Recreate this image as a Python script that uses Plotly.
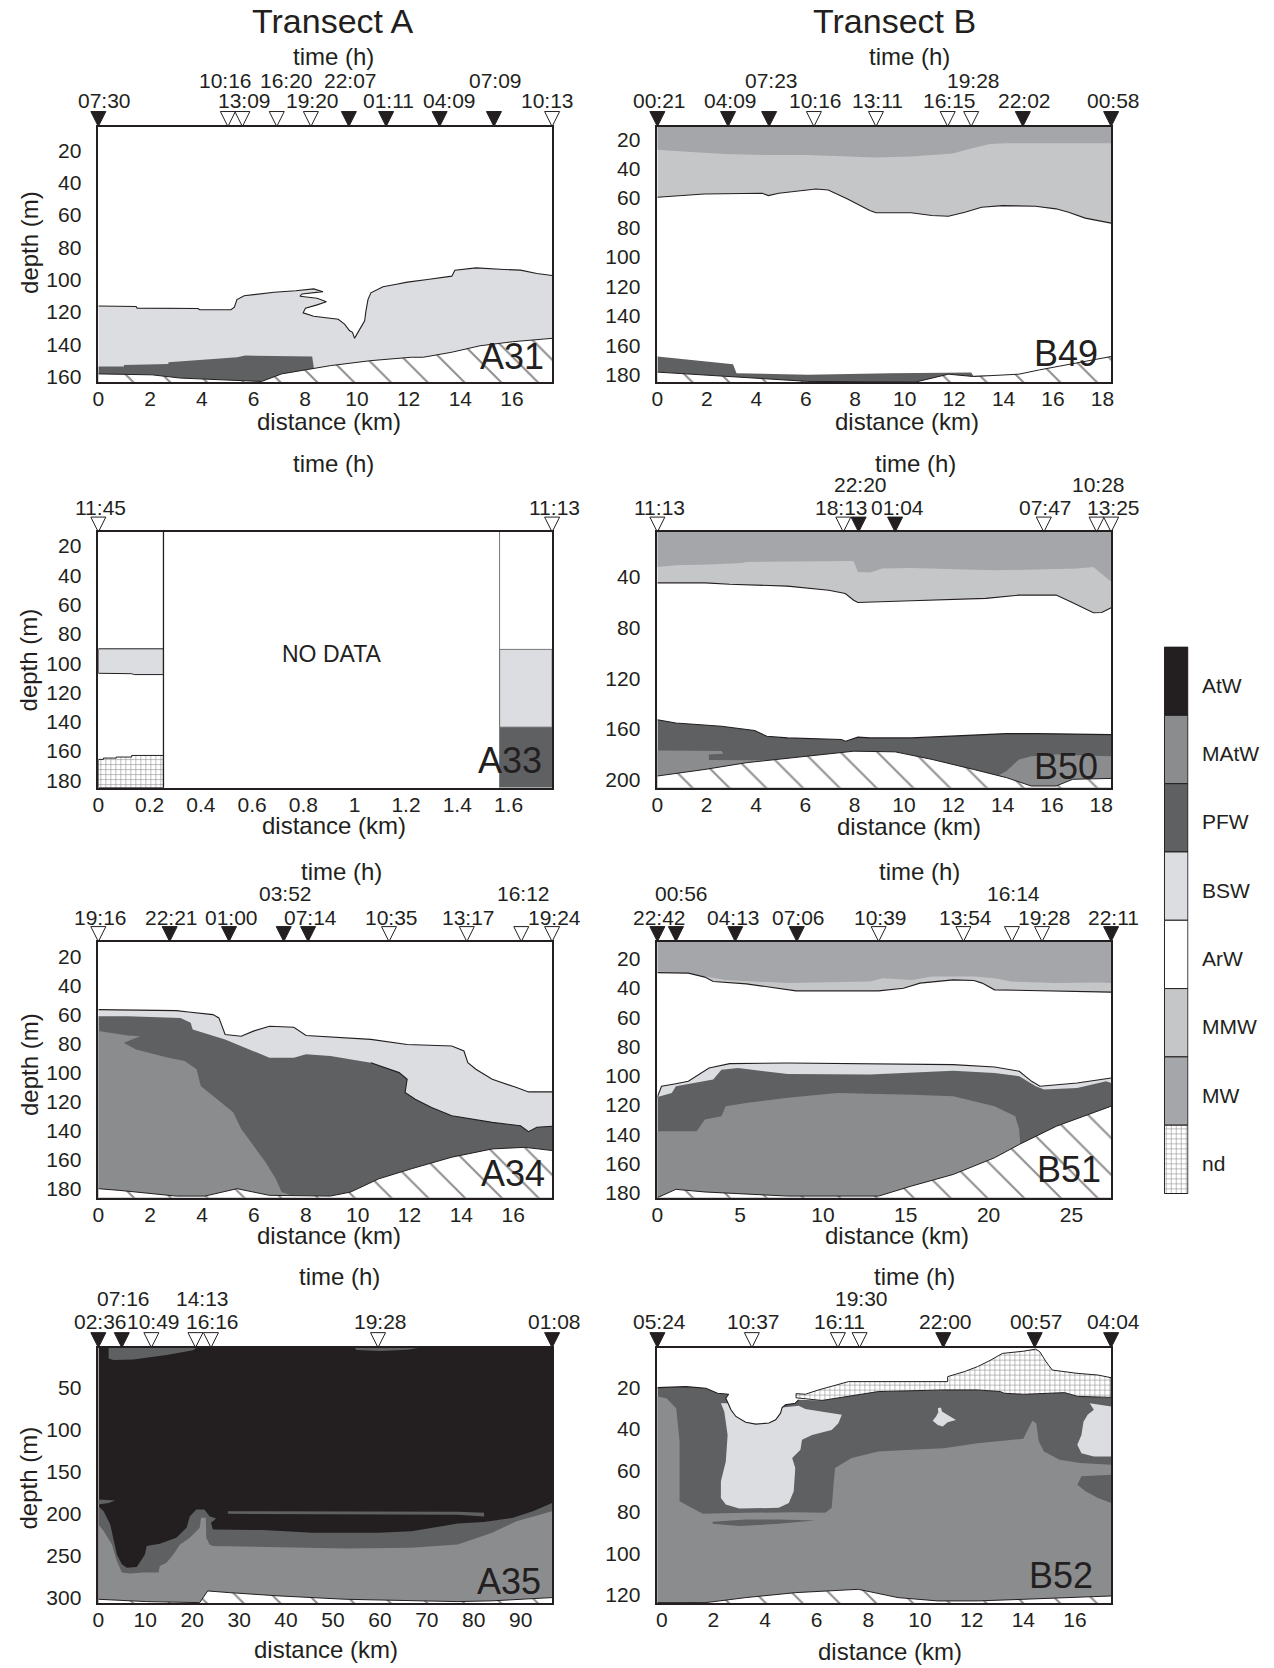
import plotly.graph_objects as go

W, H = 1274, 1668
INK = '#231f20'
FONT = 'Liberation Sans, Arial, Helvetica, sans-serif'

# ---------------- water-mass classes ----------------
CLASSES = ['AtW', 'MAtW', 'PFW', 'BSW', 'ArW', 'MMW', 'MW', 'nd']
CLASS_COLORS = ['#231f20', '#8b8c8e', '#5f6062', '#dcdde0', '#ffffff', '#c5c6c8', '#a5a6a9', '#ffffff']
C = dict(zip(CLASSES, CLASS_COLORS))

# ---------------- station times (top axis) ----------------
A31_TIMES = ['07:30', '10:16', '13:09', '16:20', '19:20', '22:07', '01:11', '04:09', '07:09', '10:13']
A31_TDIST = [0, 5.01, 5.57, 6.90, 8.22, 9.69, 11.13, 13.20, 15.30, 17.55]
A31_NIGHT = [1, 0, 0, 0, 0, 1, 1, 1, 1, 0]
B49_TIMES = ['00:21', '04:09', '07:23', '10:16', '13:11', '16:15', '19:28', '22:02', '00:58']
B49_TDIST = [0, 2.86, 4.52, 6.33, 8.84, 11.74, 12.69, 14.78, 18.35]
B49_NIGHT = [1, 1, 1, 0, 0, 0, 0, 1, 1]
A33_TIMES = ['11:45', '11:13']
A33_TDIST = [0, 1.77]
A33_NIGHT = [0, 0]
B50_TIMES = ['11:13', '18:13', '22:20', '01:04', '07:47', '10:28', '13:25']
B50_TDIST = [0, 7.54, 8.16, 9.64, 15.67, 17.81, 18.4]
B50_NIGHT = [0, 0, 1, 1, 0, 0, 0]
A34_TIMES = ['19:16', '22:21', '01:00', '03:52', '07:14', '10:35', '13:17', '16:12', '19:24']
A34_TDIST = [0, 2.75, 5.04, 7.15, 8.09, 11.21, 14.21, 16.31, 17.5]
A34_NIGHT = [0, 1, 1, 1, 1, 0, 0, 0, 0]
B51_TIMES = ['22:42', '00:56', '04:13', '07:06', '10:39', '13:54', '16:14', '19:28', '22:11']
B51_TDIST = [0, 1.12, 4.70, 8.42, 13.36, 18.48, 21.41, 23.23, 27.4]
B51_NIGHT = [1, 1, 1, 1, 0, 0, 0, 0, 1]
A35_TIMES = ['02:36', '07:16', '10:49', '14:13', '16:16', '19:28', '01:08']
A35_TDIST = [0, 5.0, 11.3, 20.7, 24.0, 59.6, 96.7]
A35_NIGHT = [1, 1, 0, 0, 0, 0, 1]
B52_TIMES = ['05:24', '10:37', '16:11', '19:30', '22:00', '00:57', '04:04']
B52_TDIST = [-0.17, 3.49, 6.82, 7.66, 10.90, 14.44, 17.4]
B52_NIGHT = [1, 0, 0, 0, 1, 1, 1]

# ---------------- tick values ----------------
A31_XTICKS = [0, 2, 4, 6, 8, 10, 12, 14, 16]
A31_YTICKS = [20, 40, 60, 80, 100, 120, 140, 160]
B49_XTICKS = [0, 2, 4, 6, 8, 10, 12, 14, 16, 18]
B49_YTICKS = [20, 40, 60, 80, 100, 120, 140, 160, 180]
A33_XTICKS = [0, 0.2, 0.4, 0.6, 0.8, 1, 1.2, 1.4, 1.6]
A33_YTICKS = [20, 40, 60, 80, 100, 120, 140, 160, 180]
B50_XTICKS = [0, 2, 4, 6, 8, 10, 12, 14, 16, 18]
B50_YTICKS = [40, 80, 120, 160, 200]
A34_XTICKS = [0, 2, 4, 6, 8, 10, 12, 14, 16]
A34_YTICKS = [20, 40, 60, 80, 100, 120, 140, 160, 180]
B51_XTICKS = [0, 5, 10, 15, 20, 25]
B51_YTICKS = [20, 40, 60, 80, 100, 120, 140, 160, 180]
A35_XTICKS = [0, 10, 20, 30, 40, 50, 60, 70, 80, 90]
A35_YTICKS = [50, 100, 150, 200, 250, 300]
B52_XTICKS = [0, 2, 4, 6, 8, 10, 12, 14, 16]
B52_YTICKS = [20, 40, 60, 80, 100, 120]

# ---------------- section boundaries (distance km, depth m) ----------------
A31_BSW_TOP = [(0, 116.3), (1.46, 116.6), (1.5, 117.6), (3.85, 117.8), (3.92, 118.6), (5.13, 118.6), (5.26, 117.0),
               (5.36, 112.3), (5.64, 109.9), (6.80, 107.8), (7.63, 106.8), (8.33, 105.7), (8.69, 107.4), (7.88, 108.8),
               (7.80, 110.2), (8.46, 111.5), (8.82, 113.6), (8.46, 115.6), (8.01, 117.6), (7.92, 120.5), (8.33, 122.6),
               (9.10, 123.8), (9.28, 124.5), (9.52, 127.5), (9.72, 131.6), (9.83, 132.6), (9.91, 136.3), (10.04, 132.6),
               (10.15, 129.6), (10.30, 125.5), (10.35, 119.3), (10.43, 112.2), (10.54, 108.1), (11.01, 104.4),
               (11.48, 103.0), (11.95, 101.5), (12.73, 99.9), (13.67, 97.8), (13.79, 94.1), (14.61, 92.7),
               (15.70, 93.7), (16.33, 94.1), (16.96, 96.2), (17.55, 97.4)]
A31_PFW = [(0, 153.8), (0.99, 153.8), (0.99, 152.8), (2.71, 152.2), (2.71, 151.1), (5.37, 148.0), (5.68, 147.0),
           (8.27, 147.6), (8.34, 155.2), (8.34, 163.4), (0, 163.4)]
A31_TOPO = [(0, 158.3), (2.08, 158.9), (3.18, 160.9), (6.31, 163.0), (7.09, 158.3), (8.34, 155.2), (8.97, 153.2),
            (10.54, 150.1), (12.10, 148.0), (12.57, 148.0), (13.67, 144.9), (14.76, 140.9), (16.02, 138.4), (17.55, 136.3)]

B49_MW_BASE = [(0, 27.2), (0.55, 27.9), (2.73, 30.1), (4.40, 30.8), (6.08, 30.8), (8.84, 32.4), (10.26, 31.7),
               (11.94, 29.7), (12.61, 26.7), (13.44, 23.3), (14.11, 22.7), (16.96, 22.7), (18.35, 22.7)]
B49_ARW_TOP = [(0, 59.4), (1.89, 57.2), (4.24, 56.7), (4.49, 58.3), (4.91, 56.7), (6.41, 53.8), (6.91, 54.5),
               (7.67, 60.5), (8.59, 68.4), (8.84, 70.0), (10.26, 70.0), (11.10, 71.8), (11.77, 72.3), (12.44, 69.6),
               (13.11, 66.2), (13.95, 65.1), (15.29, 65.5), (16.12, 67.3), (16.63, 69.6), (17.30, 73.6), (18.35, 77.0)]
B49_PFW = [(0, 167.6), (0.39, 168.3), (3.06, 172.8), (3.20, 178.9), (6.08, 180.0), (9.43, 178.9), (12.69, 178.5),
           (12.78, 180.7), (13.44, 180.5), (13.44, 185), (0, 185)]
B49_TOPO = [(0, 178.2), (1.89, 180.0), (6.08, 184.5), (10.43, 185.0), (11.77, 179.6), (12.78, 181.2), (13.78, 180.5),
            (14.62, 179.6), (15.45, 176.7), (16.63, 172.8), (18.35, 167.6)]

A33_EDGES = [0.254, 1.565]
A33_L_BSW = [(0, 90.2), (0.254, 90.2), (0.254, 107.8), (0.14, 107.8), (0.13, 107.2), (0, 106.9)]
A33_L_ND = [(0, 165.7), (0.02, 165.7), (0.02, 164.8), (0.07, 164.8), (0.07, 164.1), (0.13, 164.1), (0.13, 163.0),
            (0.254, 163.0), (0.254, 185), (0, 185)]
A33_R_BSW = [(1.565, 90.6), (1.77, 90.6), (1.77, 143.7), (1.565, 143.7)]
A33_R_PFW = [(1.565, 143.7), (1.77, 143.7), (1.77, 185), (1.565, 185)]

B50_MW_BASE = [(0, 32.1), (0.75, 30.8), (2.09, 30.3), (3.44, 29.0), (3.60, 28.2), (5.28, 27.7), (7.88, 27.4),
               (7.96, 27.7), (8.13, 36.1), (8.63, 36.6), (9.13, 33.4), (10.31, 32.9), (11.98, 34.0), (13.66, 34.8),
               (15.33, 34.2), (17.01, 33.4), (17.68, 32.1), (18.02, 37.4), (18.40, 43.9)]
B50_ARW_TOP = [(0, 44.7), (1.93, 44.7), (2.93, 45.8), (5.28, 47.3), (6.95, 50.5), (7.62, 53.1), (7.96, 58.4),
               (8.13, 60.2), (10.31, 58.9), (13.32, 57.0), (14.66, 54.4), (16.17, 54.4), (16.76, 59.7), (17.18, 63.6),
               (17.68, 68.3), (18.02, 68.1), (18.40, 64.4)]
B50_PFW_TOP = [(0, 152.8), (0.75, 155.4), (2.60, 158.0), (3.94, 161.4), (4.44, 165.9), (5.28, 167.2), (7.46, 168.5),
               (7.63, 169.8), (8.13, 166.6), (8.63, 167.2), (10.31, 167.2), (11.98, 165.9), (14.16, 163.8),
               (15.33, 163.8), (18.40, 164.6)]
B50_MATW_L = [(0, 177.1), (2.60, 177.6), (2.68, 179.8), (2.09, 180.3), (2.09, 184.7), (5.5, 184.9), (5.5, 206.5),
              (0, 206.5)]
B50_MATW_R = [(13.66, 198.6), (14.16, 193.4), (14.66, 184.2), (15.16, 181.6), (16.17, 180.3), (18.40, 181.6),
              (18.40, 206.5), (13.66, 206.5)]
B50_TOPO = [(0, 197.3), (1.93, 192.1), (3.60, 186.8), (5.61, 182.4), (7.96, 177.7), (9.64, 178.2), (11.14, 184.2),
            (12.82, 192.1), (14.16, 198.6), (15.16, 205.2), (16.17, 205.2), (16.84, 199.9), (18.40, 199.2)]

A34_BSW_TOP = [(0, 56.6), (1.14, 57.0), (3.01, 57.3), (3.48, 58.2), (4.42, 60.0), (4.65, 62.3), (4.89, 73.7),
               (5.51, 74.9), (5.98, 71.4), (6.60, 68.0), (7.54, 68.7), (8.01, 74.4), (8.95, 75.3), (10.51, 77.1),
               (11.91, 80.6), (13.63, 81.7), (14.10, 85.1), (14.25, 93.2), (14.56, 97.7), (15.19, 104.6),
               (16.13, 110.3), (16.59, 113.3), (17.5, 113.3)]
A34_PFW_TOP = [(0, 61.1), (1.14, 61.1), (3.17, 62.3), (3.56, 65.7), (3.64, 70.3), (4.89, 77.1), (5.82, 84.0),
               (6.60, 89.7), (7.54, 89.7), (8.01, 87.4), (8.95, 88.6), (10.51, 93.2), (11.60, 100.0), (11.91, 104.6),
               (11.83, 113.7), (12.22, 118.3), (12.85, 124.0), (13.63, 129.7), (15.19, 134.3), (16.28, 136.6),
               (16.59, 140.7), (16.91, 137.7), (17.5, 137.0)]
A34_MATW = [(0, 71.4), (1.14, 74.4), (1.61, 74.9), (0.98, 79.4), (1.45, 84.0), (2.70, 89.7), (3.33, 92.0),
            (3.79, 97.7), (3.95, 109.2), (4.57, 118.3), (5.20, 127.4), (5.51, 138.9), (5.98, 150.3), (6.45, 161.7),
            (6.84, 173.2), (7.07, 182.3), (7.70, 186.2), (0, 186.2)]
A34_TOPO = [(0, 180.0), (0.83, 181.2), (3.01, 185.1), (4.11, 185.1), (5.35, 180.0), (6.60, 184.6), (8.95, 185.1),
            (9.73, 182.3), (10.82, 173.2), (12.07, 166.3), (13.63, 158.3), (15.19, 152.6), (16.44, 151.5), (17.5, 153.7)]

B51_MW_BASE = [(0, 28.7), (1.62, 29.4), (4.12, 34.4), (7.87, 36.6), (12.86, 35.5), (13.61, 33.2), (15.36, 34.4),
               (16.61, 32.1), (19.11, 32.1), (20.36, 33.2), (21.36, 35.5), (24.10, 36.6), (26.60, 36.2), (27.4, 36.6)]
B51_ARW_TOP = [(0, 29.4), (1.87, 29.8), (2.87, 32.5), (3.37, 35.5), (5.37, 37.1), (7.37, 40.1), (8.37, 41.9),
               (13.36, 41.9), (14.86, 40.1), (15.86, 36.6), (16.86, 35.5), (17.86, 34.4), (19.11, 34.8), (19.61, 36.6),
               (20.36, 41.2), (22.85, 41.9), (27.4, 42.8)]
B51_BSW_TOP = [(0, 114.5), (0.25, 107.2), (1.12, 105.4), (1.87, 103.8), (3.12, 94.7), (4.37, 91.7), (7.87, 91.3),
               (12.86, 91.7), (17.86, 92.4), (20.36, 94.0), (21.85, 96.9), (22.60, 103.8), (23.10, 107.2),
               (25.35, 104.9), (27.4, 101.5)]
B51_PFW_TOP = [(0, 114.5), (0.87, 111.7), (1.12, 107.2), (3.37, 102.6), (3.87, 95.8), (4.87, 94.7), (7.87, 98.8),
               (12.86, 99.2), (17.86, 96.5), (20.36, 98.1), (21.85, 100.3), (22.85, 107.2), (23.35, 109.4),
               (25.35, 108.3), (27.1, 103.8), (27.4, 104.9)]
B51_MATW_TOP = [(0, 137.9), (2.37, 137.9), (2.87, 129.9), (3.87, 127.7), (4.12, 120.8), (5.37, 118.6), (7.87, 115.1),
                (10.87, 111.7), (15.36, 112.9), (17.86, 114.0), (20.36, 120.8), (21.61, 127.7), (21.85, 136.8),
                (21.91, 147.0)]
B51_TOPO = [(0, 183.4), (1.12, 177.7), (2.87, 179.5), (7.87, 182.3), (13.36, 182.3), (15.36, 175.4), (17.86, 167.5),
            (20.36, 156.1), (21.85, 147.0), (24.10, 134.5), (27.4, 120.8)]

A35_PFW_SURF1 = [(2.19, 2.6), (20.88, 2.6), (20.17, 5.6), (14.53, 11.5), (7.48, 16.6), (3.24, 17.4), (2.19, 15.4)]
A35_PFW_SURF2 = [(54.6, 2.6), (68.4, 2.6), (66.0, 5.0), (60.0, 6.5), (55.0, 5.5)]
A35_PFW_TONGUE = [(0, 183.4), (3.6, 184.6), (2.19, 187.4), (0, 189.3)]
A35_PFW_TOP = [(0, 191.3), (1.13, 197.2), (2.54, 213.0), (3.24, 228.8), (3.95, 248.6), (5.01, 260.4), (6.07, 264.4),
               (8.18, 263.6), (9.94, 248.6), (10.3, 238.7), (13.1, 236.0), (16.6, 228.8), (18.8, 216.9), (19.5, 203.1),
               (20.9, 195.3), (22.6, 195.3), (23.7, 203.1), (25.1, 205.9), (24.0, 211.0), (24.4, 218.9), (27.9, 218.9),
               (35.0, 219.7), (45.6, 222.8), (59.7, 223.0), (66.7, 221.0), (73.8, 214.0), (76.6, 212.0),
               (82.2, 210.0), (88.2, 205.2), (92.6, 197.3), (96.7, 187.4)]
A35_MATW_TOP = [(0, 213.0), (1.13, 220.9), (2.89, 236.7), (3.95, 256.4), (5.01, 270.2), (6.77, 271.4), (9.59, 270.2),
                (12.8, 270.2), (13.1, 262.4), (14.5, 258.5), (16.0, 248.6), (17.4, 236.7), (19.5, 228.8),
                (21.6, 216.9), (21.9, 205.1), (22.9, 205.1), (23.0, 228.8), (23.7, 236.7), (24.4, 238.7),
                (38.5, 239.9), (52.6, 241.5), (66.7, 240.7), (76.6, 236.7), (83.9, 223.0), (89.1, 209.2), (96.7, 197.3)]
A35_PFW_THIN = [(27.6, 197.2), (76.6, 198.0), (82.2, 199.0), (82.2, 203.5), (76.6, 201.5), (27.6, 200.4)]
A35_TOPO = [(0, 302.0), (10.3, 304.8), (21.6, 306.0), (23.3, 292.1), (27.9, 294.1), (38.5, 298.0), (52.6, 302.0),
            (66.7, 303.9), (76.6, 304.8), (83.9, 303.9), (96.7, 300.0)]

B52_PFW_TOP = [(-0.17, 20.1), (0.94, 19.6), (1.71, 20.4), (2.16, 22.8), (2.59, 23.3), (2.48, 25.2), (2.68, 30.8),
               (2.87, 34.0), (3.25, 36.8), (3.64, 37.7), (4.15, 37.2), (4.41, 35.6), (4.60, 32.4), (4.66, 29.7),
               (4.79, 28.4), (5.17, 27.6), (5.30, 26.0), (6.2, 26.3), (6.71, 25.2), (7.61, 23.6), (8.38, 22.0),
               (10.94, 21.2), (12.22, 21.2), (13.12, 22.0), (13.25, 22.8), (14.02, 23.3), (15.6, 22.5),
               (16.1, 24.3), (17.4, 24.8)]
B52_ND = [(5.2, 23.0), (5.56, 23.3), (6.07, 21.2), (6.58, 19.6), (7.23, 17.2), (11.07, 17.2), (11.07, 14.8),
          (11.71, 12.4), (12.22, 10.0), (12.74, 6.8), (13.19, 3.6), (14.02, 2.5), (14.48, 1.5), (14.64, 2.8),
          (14.88, 7.6), (15.12, 11.6), (16.08, 13.2), (16.88, 14.0), (17.4, 15.3), (17.4, 24.8), (16.1, 24.3),
          (15.6, 22.5), (14.02, 23.3), (13.25, 22.8), (13.12, 22.0), (12.22, 21.2), (10.94, 21.2), (8.38, 22.0),
          (7.61, 23.6), (6.71, 25.2), (6.2, 26.3), (5.2, 25.0)]
B52_MATW_TOP = [(-0.17, 24.4), (0.18, 25.2), (0.56, 30.0), (0.69, 46.1), (0.69, 74.9), (1.14, 78.1), (1.59, 81.0),
                (3.25, 80.5), (5.17, 80.2), (6.33, 80.5), (6.58, 78.1), (6.65, 66.9), (6.71, 58.9), (7.35, 54.1),
                (8.38, 50.9), (9.66, 50.1), (10.94, 49.3), (12.22, 46.9), (13.50, 45.3), (14.0, 44.8), (14.2, 39.7),
                (14.35, 36.1), (14.5, 37.3), (14.6, 46.1), (14.8, 50.9), (15.4, 54.9), (16.2, 56.5), (17.4, 57.3)]
B52_BSW_MAIN = [(2.29, 27.6), (2.42, 31.6), (2.55, 42.9), (2.48, 55.7), (2.29, 65.3), (2.29, 73.3), (2.48, 76.5),
                (3.0, 78.4), (4.53, 78.1), (4.92, 75.7), (5.11, 70.1), (5.17, 58.9), (5.05, 54.1), (5.37, 50.1),
                (5.43, 45.3), (5.82, 42.9), (6.58, 40.5), (6.84, 37.3), (6.97, 33.2), (6.58, 32.4), (5.56, 30.4),
                (5.30, 28.8), (4.92, 29.2), (4.66, 29.7), (4.60, 32.4), (4.41, 35.6), (4.15, 37.2), (3.64, 37.7),
                (3.25, 36.8), (2.87, 34.0), (2.68, 30.8), (2.59, 27.6)]
B52_BSW_SPOT = [(10.69, 30.0), (10.81, 29.7), (10.85, 31.6), (11.07, 33.2), (11.39, 35.7), (11.07, 36.8),
                (10.88, 38.9), (10.69, 38.1), (10.49, 36.1), (10.62, 34.0), (10.71, 32.0)]
B52_BSW_EAST = [(16.57, 27.6), (17.05, 28.4), (17.4, 29.2), (17.4, 53.3), (16.73, 53.3), (16.25, 51.7), (16.09, 47.7),
                (16.25, 42.9), (16.33, 36.5), (16.49, 33.2), (16.73, 30.8)]
B52_PFW_EAST = [(17.4, 62.1), (16.25, 62.9), (16.09, 66.9), (16.41, 70.1), (16.89, 73.3), (17.4, 75.7)]
B52_PFW_STREAK = [(1.97, 84.8), (3.25, 83.7), (4.53, 83.7), (5.94, 84.2), (4.53, 85.8), (3.0, 86.9), (1.97, 85.8)]
B52_TOPO = [(-0.17, 123.8), (1.71, 123.8), (3.25, 121.4), (5.17, 119.0), (7.61, 117.4), (9.15, 121.4),
            (10.69, 123.0), (12.22, 123.0), (14.02, 122.2), (17.4, 120.6)]

# ---------------- layout (pixels) ----------------
COL_L = [93, 656]
COL_R = [550, 1113]
ROW_T = [127, 534, 945, 1352.5]
ROW_B = [383.5, 790.5, 1202, 1609]
LOW_SHIFT = [26, 25, 24, 26]
UP_SHIFT = [46, 47.5, 48, 49.5]

PANELS = [
    dict(name='A31', r=0, c=0, xr=[0, 17.55], yr=[163.4, 5.2], xt=A31_XTICKS, yt=A31_YTICKS,
         times=A31_TIMES, td=A31_TDIST, night=A31_NIGHT, up=[1, 3, 5, 8],
         shift={0: 4, 1: -4, 3: 8, 7: 8, 9: -7}, lab=(7, 13.5), tpos=(330, 57), dpos=(325, 423)),
    dict(name='B49', r=0, c=1, xr=[0, 18.35], yr=[185, 11.4], xt=B49_XTICKS, yt=B49_YTICKS,
         times=B49_TIMES, td=B49_TDIST, night=B49_NIGHT, up=[2, 6], shift={}, lab=(12.6, 15.7),
         tpos=(910, 57), dpos=(907, 423)),
    dict(name='A33', r=1, c=0, xr=[0, 1.77], yr=[185, 10.5], xt=A33_XTICKS, yt=A33_YTICKS,
         times=A33_TIMES, td=A33_TDIST, night=A33_NIGHT, up=[], shift={}, lab=(9, 14.5),
         tpos=(330, 465), dpos=(330, 828)),
    dict(name='B50', r=1, c=1, xr=[0, 18.4], yr=[206.5, 4.6], xt=B50_XTICKS, yt=B50_YTICKS,
         times=B50_TIMES, td=B50_TDIST, night=B50_NIGHT, up=[2, 5], shift={1: -4}, lab=(12.6, 9),
         tpos=(916, 465), dpos=(909, 829)),
    dict(name='A34', r=2, c=0, xr=[0, 17.5], yr=[186.2, 9.7], xt=A34_XTICKS, yt=A34_YTICKS,
         times=A34_TIMES, td=A34_TDIST, night=A34_NIGHT, up=[3, 7], shift={}, lab=(6.3, 12),
         tpos=(338, 875), dpos=(325, 1240)),
    dict(name='B51', r=2, c=1, xr=[0, 27.4], yr=[183.4, 8.2], xt=B51_XTICKS, yt=B51_YTICKS,
         times=B51_TIMES, td=B51_TDIST, night=B51_NIGHT, up=[1, 6], shift={1: 4, 2: -4}, lab=(9.3, 15.3),
         tpos=(920, 875), dpos=(897, 1240)),
    dict(name='A35', r=3, c=0, xr=[0, 96.7], yr=[306.7, 2.6], xt=A35_XTICKS, yt=A35_YTICKS,
         times=A35_TIMES, td=A35_TDIST, night=A35_NIGHT, up=[1, 3], shift={3: 5}, lab=(10.4, 9),
         tpos=(336, 1281), dpos=(322, 1655)),
    dict(name='B52', r=3, c=1, xr=[-0.17, 17.4], yr=[124.1, 0.8], xt=B52_XTICKS, yt=B52_YTICKS,
         times=B52_TIMES, td=B52_TDIST, night=B52_NIGHT, up=[3], shift={}, lab=(17.6, 15.7),
         tpos=(915, 1281), dpos=(890, 1657)),
]

HATCH = dict(shape='\\', bgcolor='white', fgcolor=INK, size=26, solidity=0.08)
GRID = dict(shape='+', bgcolor='white', fgcolor=INK, size=5, solidity=0.22)

fig = go.Figure()


def ids(n):
    return ('x' if n == 1 else f'x{n}'), ('y' if n == 1 else f'y{n}')


def poly(n, pts, color, pattern=None, lw=0, lc=INK):
    xa, ya = ids(n)
    xs = [p[0] for p in pts] + [pts[0][0]]
    ys = [p[1] for p in pts] + [pts[0][1]]
    kw = dict(x=xs, y=ys, xaxis=xa, yaxis=ya, mode='lines', fill='toself', fillcolor=color,
              line=dict(width=lw, color=lc), hoverinfo='skip', showlegend=False)
    if pattern is not None:
        kw['fillpattern'] = pattern
    fig.add_trace(go.Scatter(**kw))


def edge(n, pts, w=1.1, c=INK):
    xa, ya = ids(n)
    fig.add_trace(go.Scatter(x=[p[0] for p in pts], y=[p[1] for p in pts], xaxis=xa, yaxis=ya, mode='lines',
                             line=dict(width=w, color=c), hoverinfo='skip', showlegend=False))


def above(n, pts, color):
    ytop = PANELS[n - 1]['yr'][1]
    poly(n, pts + [(pts[-1][0], ytop), (pts[0][0], ytop)], color)


def below(n, pts, color, pattern=None):
    ybot = PANELS[n - 1]['yr'][0]
    poly(n, pts + [(pts[-1][0], ybot), (pts[0][0], ybot)], color, pattern)


def topo(n, pts):
    below(n, pts, 'white', HATCH)
    edge(n, pts, 1.0)


# ---- A31 ----
below(1, A31_BSW_TOP, C['BSW'])
edge(1, A31_BSW_TOP)
poly(1, A31_PFW, C['PFW'])
topo(1, A31_TOPO)

# ---- B49 ----
above(2, B49_ARW_TOP, C['MMW'])
above(2, B49_MW_BASE, C['MW'])
edge(2, B49_ARW_TOP)
poly(2, B49_PFW, C['PFW'])
topo(2, B49_TOPO)

# ---- A33 ----
poly(3, A33_L_BSW, C['BSW'], lw=1.0)
poly(3, A33_L_ND, 'white', GRID, lw=1.0)
poly(3, A33_R_BSW, C['BSW'], lw=1.0, lc='#777777')
poly(3, A33_R_PFW, C['PFW'])
edge(3, [(A33_EDGES[0], 10.5), (A33_EDGES[0], 185)], 1.3)
edge(3, [(A33_EDGES[1], 10.5), (A33_EDGES[1], 185)], 1.0, '#777777')

# ---- B50 ----
above(4, B50_ARW_TOP, C['MMW'])
above(4, B50_MW_BASE, C['MW'])
edge(4, B50_ARW_TOP)
below(4, B50_PFW_TOP, C['PFW'])
edge(4, B50_PFW_TOP)
poly(4, B50_MATW_L, C['MAtW'])
poly(4, B50_MATW_R, C['MAtW'])
topo(4, B50_TOPO)

# ---- A34 ----
below(5, A34_BSW_TOP, C['BSW'])
edge(5, A34_BSW_TOP)
below(5, A34_PFW_TOP, C['PFW'])
edge(5, A34_PFW_TOP[11:])
poly(5, A34_MATW, C['MAtW'])
topo(5, A34_TOPO)

# ---- B51 ----
above(6, B51_ARW_TOP, C['MMW'])
above(6, B51_MW_BASE, C['MW'])
edge(6, B51_ARW_TOP)
below(6, B51_BSW_TOP, C['BSW'])
edge(6, B51_BSW_TOP)
below(6, B51_PFW_TOP, C['PFW'])
below(6, B51_MATW_TOP, C['MAtW'])
topo(6, B51_TOPO)

# ---- A35 ----
xr7, yr7 = PANELS[6]['xr'], PANELS[6]['yr']
poly(7, [(xr7[0], yr7[1]), (xr7[1], yr7[1]), (xr7[1], yr7[0]), (xr7[0], yr7[0])], C['AtW'])
poly(7, A35_PFW_SURF1, C['PFW'])
poly(7, A35_PFW_SURF2, C['PFW'])
poly(7, A35_PFW_TONGUE, C['PFW'])
below(7, A35_PFW_TOP, C['PFW'])
below(7, A35_MATW_TOP, C['MAtW'])
poly(7, A35_PFW_THIN, C['PFW'])
topo(7, A35_TOPO)

# ---- B52 ----
below(8, B52_PFW_TOP, C['PFW'])
below(8, B52_MATW_TOP, C['MAtW'])
poly(8, B52_BSW_MAIN, C['BSW'])
poly(8, B52_BSW_SPOT, C['BSW'])
poly(8, B52_BSW_EAST, C['BSW'])
poly(8, B52_PFW_EAST, C['PFW'])
poly(8, B52_PFW_STREAK, C['PFW'])
edge(8, B52_PFW_TOP[:17])
poly(8, B52_ND, 'white', GRID, lw=1.0)
topo(8, B52_TOPO)

# ---- station triangles, axes and texts ----
annotations = []
layout_axes = {}
for n, p in enumerate(PANELS, 1):
    xa, ya = ids(n)
    r, c = p['r'], p['c']
    L, R, T, B = COL_L[c], COL_R[c], ROW_T[r], ROW_B[r]
    tick_font = dict(size=21, family=FONT, color=INK)
    common = dict(showgrid=False, zeroline=False, showline=True, mirror=True, linecolor=INK, linewidth=1.5,
                  ticks='', tickfont=tick_font, tickmode='array', fixedrange=True)
    layout_axes['xaxis' if n == 1 else f'xaxis{n}'] = dict(
        domain=[L / W, R / W], range=p['xr'], anchor=ya, tickvals=p['xt'],
        ticktext=[f'{v:g}' for v in p['xt']], ticklabelstandoff=-3, **common)
    layout_axes['yaxis' if n == 1 else f'yaxis{n}'] = dict(
        domain=[1 - B / H, 1 - T / H], range=p['yr'], anchor=xa, tickvals=p['yt'],
        ticktext=[f'{v:g}' for v in p['yt']], ticklabelstandoff=11, **common)

    ytop = p['yr'][1]
    fig.add_trace(go.Scatter(
        x=p['td'], y=[ytop] * len(p['td']), xaxis=xa, yaxis=ya, mode='markers', cliponaxis=False,
        marker=dict(symbol='arrow-down', size=15,
                    color=[INK if k else 'white' for k in p['night']], line=dict(color=INK, width=1)),
        hoverinfo='skip', showlegend=False))

    for i, (t, d) in enumerate(zip(p['times'], p['td'])):
        annotations.append(dict(
            text=t, xref=xa, x=d, yref=f'{ya} domain', y=1, xanchor='center', yanchor='middle',
            yshift=UP_SHIFT[r] if i in p['up'] else LOW_SHIFT[r], xshift=2 + p['shift'].get(i, 0),
            showarrow=False, font=dict(size=21, family=FONT, color=INK)))

    gr, gb = p['lab']
    annotations.append(dict(text=p['name'], xref=f'{xa} domain', x=1, yref=f'{ya} domain', y=0,
                            xanchor='right', yanchor='bottom', xshift=-(gr - 1), yshift=gb - 10,
                            showarrow=False, font=dict(size=36, family=FONT, color=INK)))
    tx, ty = p['tpos']
    annotations.append(dict(text='time (h)', xref='paper', yref='paper', x=tx / W, y=1 - ty / H,
                            xanchor='center', yanchor='middle', showarrow=False,
                            font=dict(size=24, family=FONT, color=INK)))
    dx, dy = p['dpos']
    annotations.append(dict(text='distance (km)', xref='paper', yref='paper', x=dx / W, y=1 - dy / H,
                            xanchor='center', yanchor='middle', showarrow=False,
                            font=dict(size=24, family=FONT, color=INK)))
    if c == 0:
        annotations.append(dict(text='depth (m)', xref='paper', yref='paper', x=23 / W,
                                y=1 - [243, 662, 1068, 1483][r] / H, textangle=-90,
                                xanchor='center', yanchor='middle', showarrow=False,
                                font=dict(size=24, family=FONT, color=INK)))

annotations.append(dict(text='NO DATA', xref='x3', yref='y3', x=0.91, y=93.5, showarrow=False,
                        font=dict(size=23, family=FONT, color=INK)))
annotations.append(dict(text='Transect A', xref='paper', yref='paper', x=329 / W, y=1 - 21 / H,
                        xanchor='center', yanchor='middle', showarrow=False,
                        font=dict(size=34, family=FONT, color=INK)))
annotations.append(dict(text='Transect B', xref='paper', yref='paper', x=895 / W, y=1 - 21 / H,
                        xanchor='center', yanchor='middle', showarrow=False,
                        font=dict(size=34, family=FONT, color=INK)))

# ---- legend column ----
LEG_L, LEG_R, LEG_T, LEG_B = 1166, 1191, 648.7, 1198.5
layout_axes['xaxis9'] = dict(domain=[LEG_L / W, LEG_R / W], range=[-0.03, 1.03], visible=False, anchor='y9',
                             fixedrange=True)
layout_axes['yaxis9'] = dict(domain=[1 - LEG_B / H, 1 - LEG_T / H], range=[8.01, -0.01], visible=False,
                             anchor='x9', fixedrange=True)
for i, name in enumerate(CLASSES):
    box = [(0, i), (1, i), (1, i + 1), (0, i + 1)]
    xs = [q[0] for q in box] + [0]
    ys = [q[1] for q in box] + [i]
    kw = dict(x=xs, y=ys, xaxis='x9', yaxis='y9', mode='lines', fill='toself', fillcolor=C[name],
              line=dict(width=1, color=INK), hoverinfo='skip', showlegend=False)
    if name == 'nd':
        kw['fillpattern'] = GRID
    fig.add_trace(go.Scatter(**kw))
    annotations.append(dict(text=name, xref='paper', x=1202 / W, yref='y9', y=i + 0.5, yshift=-4,
                            xanchor='left', yanchor='middle', showarrow=False,
                            font=dict(size=21, family=FONT, color=INK)))

fig.update_layout(width=W, height=H, margin=dict(l=0, r=0, t=0, b=0), paper_bgcolor='white',
                  plot_bgcolor='white', showlegend=False, annotations=annotations,
                  font=dict(family=FONT, color=INK), **layout_axes)

fig.write_html("out.html", config={'displayModeBar': False},
               post_script="document.body.style.margin='0px';")
